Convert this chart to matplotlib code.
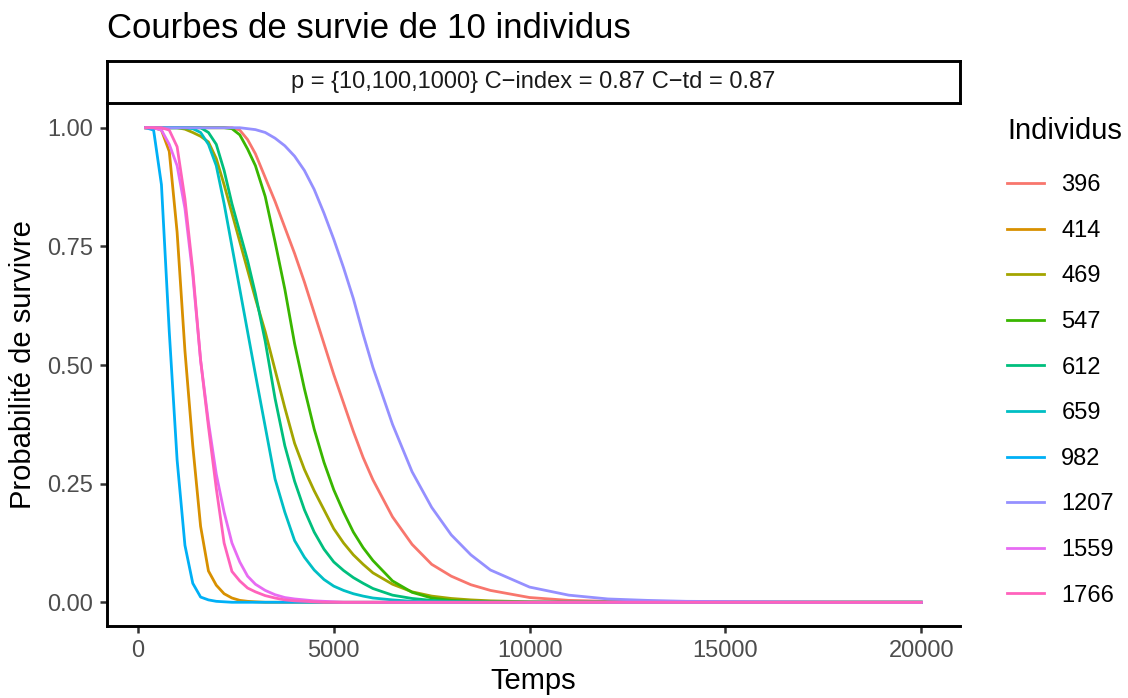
import matplotlib
matplotlib.use('Agg')
import matplotlib.pyplot as plt
import numpy as np

plt.rcParams['font.family'] = ['Liberation Sans', 'DejaVu Sans']

# Survival curves (shared time grid)
temps = [200, 400, 600, 800, 1000, 1200, 1400, 1600, 1800, 2000,
         2200, 2400, 2600, 2800, 3000, 3250, 3500, 3750, 4000, 4250,
         4500, 4750, 5000, 5250, 5500, 5750, 6000, 6500, 7000, 7500,
         8000, 8500, 9000, 10000, 11000, 12000, 13000, 14000, 16000, 18000,
         20000]

individus = ['396', '414', '469', '547', '612', '659', '982', '1207', '1559', '1766']

s_396 = [1, 1, 1, 1, 1, 1, 1, 1, 1, 1,
         1, 1, 0.995, 0.975, 0.945, 0.895, 0.845, 0.79, 0.735, 0.675,
         0.61, 0.545, 0.48, 0.42, 0.36, 0.305, 0.258, 0.18, 0.122, 0.08,
         0.055, 0.037, 0.025, 0.01, 0.004, 0.002, 0.001, 0, 0, 0,
         0]
s_414 = [1, 1, 0.995, 0.95, 0.78, 0.53, 0.33, 0.16, 0.066, 0.036,
         0.018, 0.009, 0.004, 0.002, 0.001, 0, 0, 0, 0, 0,
         0, 0, 0, 0, 0, 0, 0, 0, 0, 0,
         0, 0, 0, 0, 0, 0, 0, 0, 0, 0,
         0]
s_469 = [1, 1, 1, 1, 1, 0.997, 0.99, 0.982, 0.97, 0.935,
         0.88, 0.82, 0.76, 0.70, 0.64, 0.57, 0.49, 0.41, 0.335, 0.28,
         0.235, 0.195, 0.155, 0.125, 0.10, 0.08, 0.062, 0.038, 0.022, 0.013,
         0.008, 0.005, 0.003, 0.001, 0, 0, 0, 0, 0, 0,
         0]
s_547 = [1, 1, 1, 1, 1, 1, 1, 1, 1, 1,
         1, 0.998, 0.985, 0.955, 0.92, 0.855, 0.76, 0.66, 0.545, 0.45,
         0.365, 0.295, 0.237, 0.19, 0.148, 0.115, 0.088, 0.045, 0.021, 0.009,
         0.004, 0.002, 0.001, 0, 0, 0, 0, 0, 0, 0,
         0]
s_612 = [1, 1, 1, 1, 1, 1, 1, 1, 0.99, 0.965,
         0.91, 0.84, 0.78, 0.72, 0.65, 0.55, 0.43, 0.33, 0.255, 0.195,
         0.148, 0.112, 0.085, 0.067, 0.052, 0.04, 0.029, 0.015, 0.008, 0.004,
         0.002, 0.001, 0, 0, 0, 0, 0, 0, 0, 0,
         0]
s_659 = [1, 1, 1, 1, 1, 1, 0.998, 0.99, 0.965, 0.92,
         0.84, 0.75, 0.66, 0.57, 0.48, 0.37, 0.26, 0.19, 0.13, 0.095,
         0.068, 0.048, 0.034, 0.025, 0.018, 0.013, 0.009, 0.005, 0.002, 0.001,
         0, 0, 0, 0, 0, 0, 0, 0, 0, 0,
         0]
s_982 = [1, 0.995, 0.88, 0.57, 0.30, 0.12, 0.04, 0.011, 0.005, 0.002,
         0.001, 0, 0, 0, 0, 0, 0, 0, 0, 0,
         0, 0, 0, 0, 0, 0, 0, 0, 0, 0,
         0, 0, 0, 0, 0, 0, 0, 0, 0, 0,
         0]
s_1207 = [1, 1, 1, 1, 1, 1, 1, 1, 1, 1,
          1, 1, 1, 0.998, 0.996, 0.99, 0.978, 0.962, 0.94, 0.91,
          0.87, 0.82, 0.765, 0.705, 0.64, 0.565, 0.495, 0.375, 0.275, 0.2,
          0.142, 0.1, 0.068, 0.032, 0.015, 0.007, 0.004, 0.002, 0.001, 0,
          0]
s_1559 = [1, 1, 0.995, 0.965, 0.92, 0.83, 0.69, 0.51, 0.38, 0.27,
          0.19, 0.125, 0.085, 0.055, 0.038, 0.025, 0.016, 0.01, 0.007, 0.005,
          0.003, 0.002, 0.001, 0, 0, 0, 0, 0, 0, 0,
          0, 0, 0, 0, 0, 0, 0, 0, 0, 0,
          0]
s_1766 = [1, 1, 1, 0.995, 0.96, 0.85, 0.70, 0.51, 0.37, 0.24,
          0.125, 0.065, 0.045, 0.03, 0.022, 0.014, 0.009, 0.005, 0.003, 0.002,
          0.001, 0, 0, 0, 0, 0, 0, 0, 0, 0,
          0, 0, 0, 0, 0, 0, 0, 0, 0, 0,
          0]

survies = [s_396, s_414, s_469, s_547, s_612, s_659, s_982, s_1207, s_1559, s_1766]
couleurs = ['#F8766D', '#D89000', '#A3A500', '#39B600', '#00BF7D',
            '#00BFC4', '#00B0F6', '#9590FF', '#E76BF3', '#FF62BC']

W, H = 1128, 698
fig = plt.figure(figsize=(W / 100, H / 100), dpi=100)

# panel (pixel box 107..960 x 104..626)
ax = fig.add_axes([107 / W, (H - 626) / H, (960 - 107) / W, (626 - 104) / H])
for ind, s, c in zip(individus, survies, couleurs):
    ax.plot(temps, s, color=c, lw=2.0, label=ind)

xmin, xmax = min(temps), max(temps)
ax.set_xlim(xmin - 0.05 * (xmax - xmin), xmax + 0.05 * (xmax - xmin))
ax.set_ylim(-0.05, 1.05)
ax.set_xticks([0, 5000, 10000, 15000, 20000])
ax.set_yticks([0, 0.25, 0.5, 0.75, 1.0])
ax.set_yticklabels(['0.00', '0.25', '0.50', '0.75', '1.00'])
ax.tick_params(labelsize=17, labelcolor='#4D4D4D', color='#333333', length=5, width=1.8, pad=5)
for sp in ['top', 'right']:
    ax.spines[sp].set_visible(False)
for sp in ['left', 'bottom']:
    ax.spines[sp].set_linewidth(2.1)
ax.set_xlabel('Temps', fontsize=21, labelpad=4)
ax.set_ylabel('Probabilité de survivre', fontsize=21, labelpad=7)

# strip above the panel
sax = fig.add_axes([107 / W, (H - 103) / H, (960 - 107) / W, (103 - 61) / H])
sax.set_xticks([])
sax.set_yticks([])
for sp in sax.spines.values():
    sp.set_linewidth(2.1)
sax.text(0.5, 0.5, 'p = {10,100,1000} C\u2212index = 0.87 C\u2212td = 0.87',
         ha='center', va='center', fontsize=17, color='#1A1A1A', transform=sax.transAxes)

fig.text(107 / W, 1 - 28 / H, 'Courbes de survie de 10 individus',
         fontsize=25, ha='left', va='center')

leg = ax.legend(title='Individus', loc='upper left', bbox_to_anchor=(1007 / W, 1 - 117 / H),
                bbox_transform=fig.transFigure, frameon=False, fontsize=17,
                title_fontsize=21, handlelength=1.55, handletextpad=0.75,
                labelspacing=1.0, borderaxespad=0, borderpad=0)
leg._legend_box.align = 'left'
leg._legend_box.sep = 21

fig.savefig('out.png', dpi=100)
